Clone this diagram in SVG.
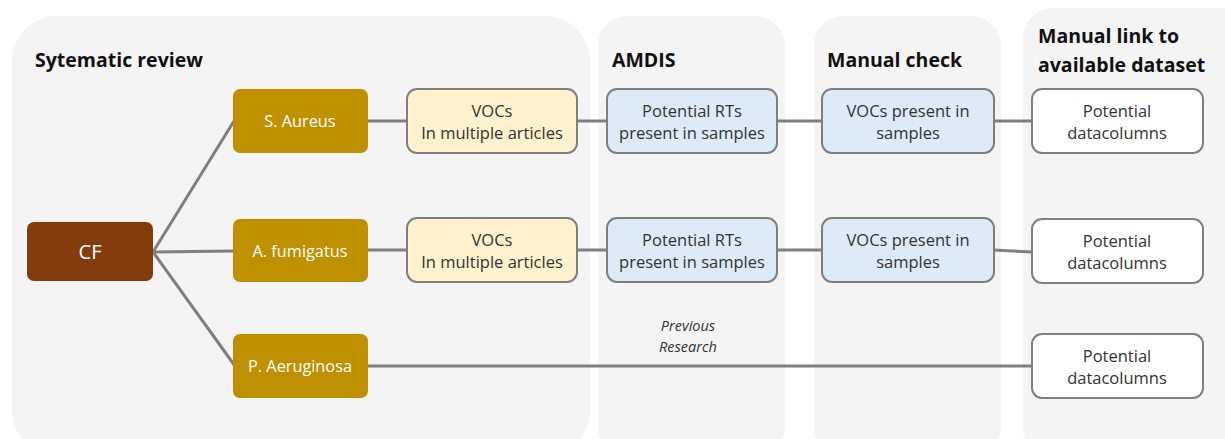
<svg xmlns="http://www.w3.org/2000/svg" width="1225" height="439" viewBox="0 0 1225 439">
<style>
.panel{fill:#f4f4f4}
.title{font-family:"Open Sans","Liberation Sans",sans-serif;font-weight:bold;font-size:19.5px;fill:#111}
.t{font-family:"Open Sans","Liberation Sans",sans-serif;font-size:16.5px;fill:#333;text-anchor:middle}
.w{font-family:"Open Sans","Liberation Sans",sans-serif;font-size:16.3px;fill:#fff;text-anchor:middle}
.gold{fill:#bf9000}
.yel{fill:#fff2cc;stroke:#7f7f7f;stroke-width:2}
.blue{fill:#deebf7;stroke:#7f7f7f;stroke-width:2}
.wht{fill:#fff;stroke:#7f7f7f;stroke-width:2}
.c{stroke:#7f7f7f;stroke-width:3;fill:none}
.it{font-family:"Open Sans","Liberation Sans",sans-serif;font-size:14.5px;font-style:italic;fill:#333;text-anchor:middle}
</style>
<rect width="1225" height="439" fill="#fff"/>
<g id="panels">
<rect class="panel" x="12" y="16" width="578" height="440" rx="45"/>
<rect class="panel" x="598" y="16" width="187" height="440" rx="30"/>
<rect class="panel" x="814" y="16" width="187" height="440" rx="30"/>
<rect class="panel" x="1023" y="8" width="230" height="450" rx="30"/>
<text class="title" x="35" y="67">Sytematic review</text>
<text class="title" x="612" y="67">AMDIS</text>
<text class="title" x="827" y="67">Manual check</text>
<text class="title" x="1038" y="43">Manual link to</text>
<text class="title" x="1038" y="72">available dataset</text>
</g>
<g id="connectors">
<line class="c" x1="153" y1="252" x2="234" y2="121"/>
<line class="c" x1="153" y1="252" x2="234" y2="251"/>
<line class="c" x1="153" y1="252" x2="235" y2="366"/>
<line class="c" x1="368" y1="121" x2="407" y2="121"/>
<line class="c" x1="577" y1="121" x2="607" y2="121"/>
<line class="c" x1="777" y1="121" x2="822" y2="121"/>
<line class="c" x1="994" y1="121" x2="1032" y2="121"/>
<line class="c" x1="368" y1="250" x2="407" y2="250"/>
<line class="c" x1="577" y1="250" x2="607" y2="250"/>
<line class="c" x1="777" y1="250" x2="822" y2="250"/>
<line class="c" x1="994" y1="250" x2="1032" y2="252"/>
<line class="c" x1="368" y1="366" x2="1032" y2="366"/>
<text class="it" x="688" y="331">Previous</text>
<text class="it" x="688" y="352">Research</text>
</g>
<g id="cf"><rect x="27" y="222" width="126" height="59" rx="7" fill="#843c0c"/><text class="w" x="90" y="259" style="font-size:20px">CF</text></g>
<g id="s-aureus"><rect class="gold" x="233" y="89" width="135" height="64" rx="7"/><text class="w" x="300" y="127">S. Aureus</text></g>
<g id="a-fumigatus"><rect class="gold" x="233" y="219" width="135" height="63" rx="7"/><text class="w" x="300" y="257">A. fumigatus</text></g>
<g id="p-aeruginosa"><rect class="gold" x="233" y="334" width="135" height="64" rx="7"/><text class="w" x="300" y="372">P. Aeruginosa</text></g>
<g id="vocs1"><rect class="yel" x="407" y="89" width="170" height="64" rx="10"/><text class="t" x="492" y="117">VOCs</text><text class="t" x="492" y="139">In multiple articles</text></g>
<g id="vocs2"><rect class="yel" x="407" y="218" width="170" height="64" rx="10"/><text class="t" x="492" y="246">VOCs</text><text class="t" x="492" y="268">In multiple articles</text></g>
<g id="rts1"><rect class="blue" x="607" y="89" width="170" height="64" rx="10"/><text class="t" x="692" y="117">Potential RTs</text><text class="t" x="692" y="139">present in samples</text></g>
<g id="rts2"><rect class="blue" x="607" y="218" width="170" height="64" rx="10"/><text class="t" x="692" y="246">Potential RTs</text><text class="t" x="692" y="268">present in samples</text></g>
<g id="present1"><rect class="blue" x="822" y="89" width="172" height="64" rx="10"/><text class="t" x="908" y="117">VOCs present in</text><text class="t" x="908" y="139">samples</text></g>
<g id="present2"><rect class="blue" x="822" y="218" width="172" height="64" rx="10"/><text class="t" x="908" y="246">VOCs present in</text><text class="t" x="908" y="268">samples</text></g>
<g id="dc1"><rect class="wht" x="1032" y="89" width="171" height="64" rx="10"/><text class="t" x="1117" y="117">Potential</text><text class="t" x="1117" y="139">datacolumns</text></g>
<g id="dc2"><rect class="wht" x="1032" y="219" width="171" height="64" rx="10"/><text class="t" x="1117" y="247">Potential</text><text class="t" x="1117" y="269">datacolumns</text></g>
<g id="dc3"><rect class="wht" x="1032" y="334" width="171" height="64" rx="10"/><text class="t" x="1117" y="362">Potential</text><text class="t" x="1117" y="384">datacolumns</text></g>
</svg>
